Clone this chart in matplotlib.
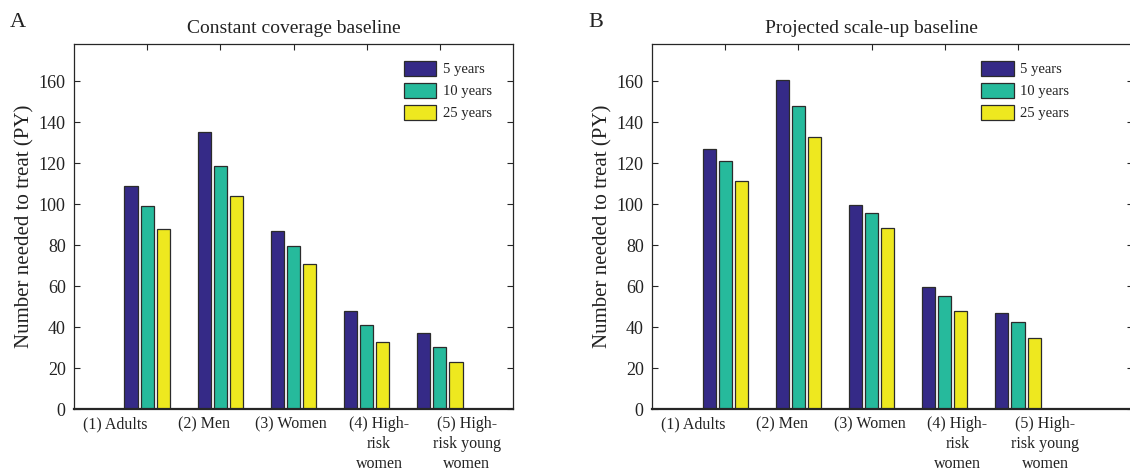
import matplotlib
matplotlib.use('Agg')
import matplotlib.pyplot as plt
import numpy as np

plt.rcParams['font.family'] = ['Liberation Serif', 'DejaVu Serif']

# ── Data ─────────────────────────────────────────────────────────────
groups = ['(1) Adults', '(2) Men', '(3) Women',
          '(4) High-\nrisk\nwomen', '(5) High-\nrisk young\nwomen']
series = ['5 years', '10 years', '25 years']

constant_5y  = [109, 135, 87, 48, 37]
constant_10y = [99.3, 118.6, 79.4, 41.1, 30.5]
constant_25y = [88, 104.1, 70.8, 32.5, 22.9]

scaleup_5y  = [126.7, 160.8, 99.6, 59.6, 46.9]
scaleup_10y = [121.2, 147.7, 95.5, 55.1, 42.4]
scaleup_25y = [111.4, 132.6, 88.4, 47.9, 34.6]

colors = ['#352a87', '#26ba9c', '#eee81f']
text_c = '#222222'

W, H = 1130, 474
fig = plt.figure(figsize=(W / 100, H / 100), dpi=100)


def px_axes(l, r, t, b):
    return fig.add_axes([l / W, 1 - b / H, (r - l) / W, (b - t) / H])


def panel(ax, data, title, letter, x_max, leg_x, title_x, letter_x):
    x = np.arange(1, len(groups) + 1)
    offs = [-0.22, 0.0, 0.22]
    handles = []
    for vals, off, col, lab in zip(data, offs, colors, series):
        h = ax.bar(x + off, vals, width=0.18, color=col,
                   edgecolor='#2b2b2b', linewidth=0.9, label=lab, zorder=2)
        handles.append(h)

    ax.set_xlim(0, x_max)
    ax.set_ylim(0, 178)
    ax.set_yticks(np.arange(0, 161, 20))
    ax.set_xticks(x)
    ax.set_xticklabels([])
    ax.tick_params(axis='both', direction='in', length=4, width=0.8,
                   colors='#262626', labelcolor=text_c, labelsize=13)
    ax.tick_params(axis='x', top=True, bottom=False)
    ax.tick_params(axis='y', left=True, right=True, pad=6)
    for s in ax.spines.values():
        s.set_color('#262626')
        s.set_linewidth(0.9)
    ax.spines['bottom'].set_linewidth(1.6)

    # category labels sit a little left of the ticks
    for i, g in enumerate(groups):
        ax.text(0.57 + 1.2 * i, -3.5, g, ha='center', va='top', fontsize=11.5,
                color=text_c, linespacing=1.32,
                transform=ax.transData, clip_on=False)

    ax.set_ylabel('Number needed to treat (PY)', fontsize=15,
                  color=text_c, labelpad=3)
    ax.set_title(title, fontsize=14, color=text_c, pad=8, x=title_x)
    ax.text(letter_x, 1.034, letter, transform=ax.transAxes, fontsize=16,
            color=text_c, ha='left', va='bottom')

    ax.legend(handles=handles, loc='upper left', bbox_to_anchor=(leg_x, 0.955),
              frameon=False, fontsize=10.5, borderpad=0, borderaxespad=0,
              handlelength=2.2, handleheight=1.2, labelspacing=0.45,
              handletextpad=0.45, labelcolor=text_c)


axA = px_axes(74, 513, 44.3, 409)
panel(axA, [constant_5y, constant_10y, constant_25y],
      'Constant coverage baseline', 'A', 6.0, 0.752, 0.5, -0.146)

axB = px_axes(652, 1133, 44.3, 409)
panel(axB, [scaleup_5y, scaleup_10y, scaleup_25y],
      'Projected scale-up baseline', 'B', 481 / 73.2, 0.685, 0.457, -0.133)

fig.savefig('out.png', dpi=100)
